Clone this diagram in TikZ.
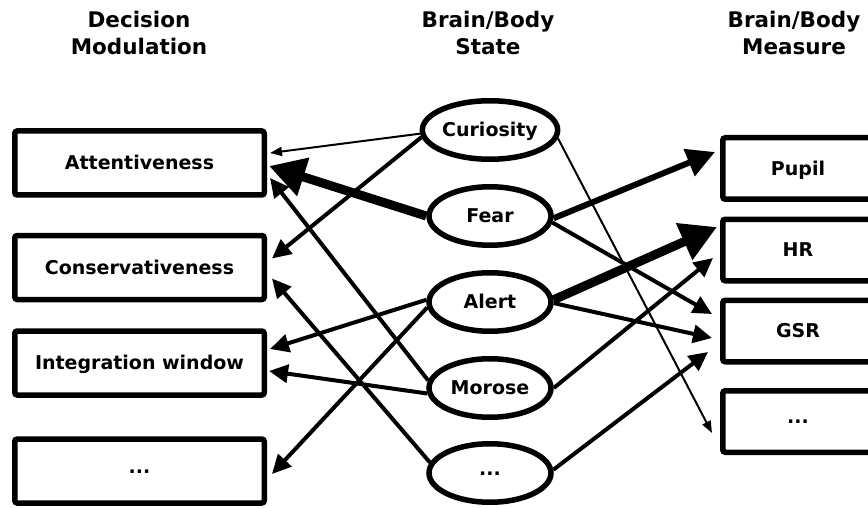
\documentclass[tikz,border=0pt]{standalone}
\usepackage{fontspec}
\setmainfont{DejaVu Sans}
\usetikzlibrary{arrows.meta,shapes.geometric}

\begin{document}
\begin{tikzpicture}[x=1pt,y=-1pt,
  every node/.style={font=\fontsize{19}{23}\selectfont\bfseries},
  header/.style={anchor=base, font=\fontsize{21.5}{26}\selectfont\bfseries},
  box/.style={draw, line width=5.5pt, rounded corners=2.5pt, inner sep=0pt,
    text height=13.9pt, text depth=0pt},
  lbox/.style={box, minimum width=249.5pt, minimum height=64pt},
  rbox/.style={box, minimum width=150.5pt, minimum height=61.5pt},
  mood/.style={draw, ellipse, line width=5.5pt, minimum width=122pt,
    minimum height=58.5pt, inner sep=0pt, text height=13.9pt, text depth=0pt},
  dotted text/.style={text height=4pt, text depth=0pt},
  thinarr/.style={line width=2pt, -{Triangle[length=12pt,width=9pt]}},
  medarr/.style={line width=4pt, -{Triangle[length=19pt,width=18pt]}},
  boldarr/.style={line width=6pt, -{Triangle[length=28pt,width=28pt]}},
  heavyarr/.style={line width=9pt, -{Triangle[length=36pt,width=38pt]}}]

\useasboundingbox (0,0) rectangle (868,508);

% column headings
\node[header] (h1a) at (139,28) {Decision};
\node[header] (h1b) at (139,55) {Modulation};
\node[header] (h2a) at (488,28) {Brain/Body};
\node[header] (h2b) at (488,55) {State};
\node[header] (h3a) at (794,28) {Brain/Body};
\node[header] (h3b) at (794,55) {Measure};

% decision modulation boxes
\node[lbox] (att)   at (139.5,163)   {Attentiveness};
\node[lbox] (cons)  at (139.5,267.5) {Conservativeness};
\node[lbox] (integ) at (139.5,363)   {Integration window};
\node[lbox, dotted text] (ldots) at (139.5,471) {...};

% brain/body states
\node[mood] (cur)   at (490,130) {Curiosity};
\node[mood] (fear)  at (490,216) {Fear};
\node[mood] (alert) at (490,302) {Alert};
\node[mood] (mor)   at (490,388) {Morose};
\node[mood, dotted text] (ell) at (490,473) {...};

% brain/body measures
\node[rbox] (pupil) at (798,168.5) {Pupil};
\node[rbox] (hr)    at (798,250)   {HR};
\node[rbox] (gsr)   at (798,331)   {GSR};
\node[rbox, dotted text] (rdots) at (798,421.5) {...};

% states -> decision modulation
\draw[thinarr]  (cur.183)   -- ([shift={(3,-10)}]att.east);
\draw[medarr]   (cur.186)   -- ([shift={(5,-9)}]cons.east);
\draw[heavyarr] (fear.west) -- ([shift={(2,3)}]att.east);
\draw[medarr]   (mor.173)   -- ([shift={(3,15)}]att.east);
\draw[medarr]   (ell.170)   -- ([shift={(5,11)}]cons.east);
\draw[medarr]   (alert.178) -- ([shift={(3,-14)}]integ.east);
\draw[medarr]   (mor.185)   -- ([shift={(2,8)}]integ.east);
\draw[medarr]   (alert.185) -- ([shift={(5,3)}]ldots.east);

% states -> measures
\draw[thinarr]  (cur.353)   -- ([shift={(-8,11.5)}]rdots.west);
\draw[boldarr]  (fear.358)  -- ([shift={(-5,-16.5)}]pupil.west);
\draw[medarr]   (fear.354)  -- ([shift={(-8,-17)}]gsr.west);
\draw[heavyarr] (alert.2)   -- ([shift={(-3,-23)}]hr.west);
\draw[medarr]   (alert.359) -- ([shift={(-8,7)}]gsr.west);
\draw[medarr]   (mor.east)  -- ([shift={(-7,8)}]hr.west);
\draw[medarr]   (ell.3)     -- ([shift={(-12,21)}]gsr.west);

\end{tikzpicture}
\end{document}
